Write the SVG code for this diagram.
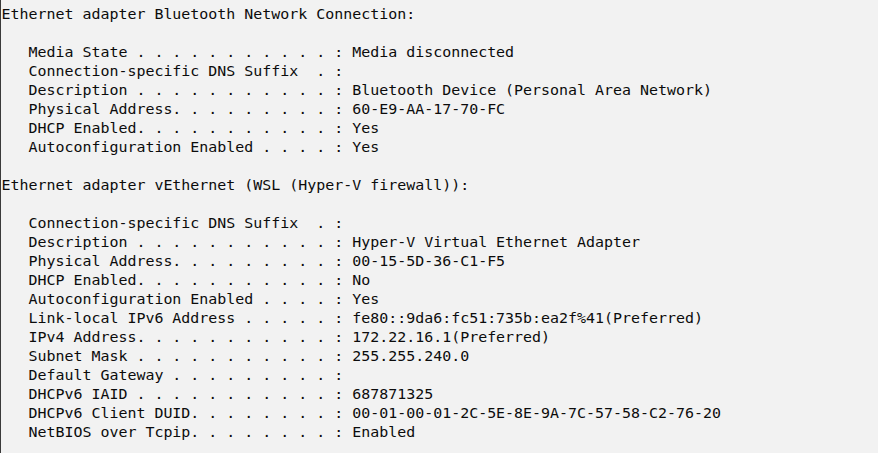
<svg xmlns="http://www.w3.org/2000/svg" width="878" height="453" viewBox="0 0 878 453">
<style>
.t{font-family:"DejaVu Sans Mono","Liberation Mono",monospace;font-size:14.95px;fill:#0c0c0c;white-space:pre}
</style>
<rect x="0" y="0" width="878" height="453" fill="#f2f2f2"/>
<rect x="0" y="0" width="1" height="453" fill="#3a3a3a"/>
<g id="console" xml:space="preserve">
<text class="t" x="1.5" y="18.5">Ethernet adapter Bluetooth Network Connection:</text>
<text class="t" x="1.5" y="56.5">   Media State . . . . . . . . . . . : Media disconnected</text>
<text class="t" x="1.5" y="75.5">   Connection-specific DNS Suffix  . :</text>
<text class="t" x="1.5" y="94.5">   Description . . . . . . . . . . . : Bluetooth Device (Personal Area Network)</text>
<text class="t" x="1.5" y="113.5">   Physical Address. . . . . . . . . : 60-E9-AA-17-70-FC</text>
<text class="t" x="1.5" y="132.5">   DHCP Enabled. . . . . . . . . . . : Yes</text>
<text class="t" x="1.5" y="151.5">   Autoconfiguration Enabled . . . . : Yes</text>
<text class="t" x="1.5" y="189.5">Ethernet adapter vEthernet (WSL (Hyper-V firewall)):</text>
<text class="t" x="1.5" y="227.5">   Connection-specific DNS Suffix  . :</text>
<text class="t" x="1.5" y="246.5">   Description . . . . . . . . . . . : Hyper-V Virtual Ethernet Adapter</text>
<text class="t" x="1.5" y="265.5">   Physical Address. . . . . . . . . : 00-15-5D-36-C1-F5</text>
<text class="t" x="1.5" y="284.5">   DHCP Enabled. . . . . . . . . . . : No</text>
<text class="t" x="1.5" y="303.5">   Autoconfiguration Enabled . . . . : Yes</text>
<text class="t" x="1.5" y="322.5">   Link-local IPv6 Address . . . . . : fe80::9da6:fc51:735b:ea2f%41(Preferred)</text>
<text class="t" x="1.5" y="341.5">   IPv4 Address. . . . . . . . . . . : 172.22.16.1(Preferred)</text>
<text class="t" x="1.5" y="360.5">   Subnet Mask . . . . . . . . . . . : 255.255.240.0</text>
<text class="t" x="1.5" y="379.5">   Default Gateway . . . . . . . . . :</text>
<text class="t" x="1.5" y="398.5">   DHCPv6 IAID . . . . . . . . . . . : 687871325</text>
<text class="t" x="1.5" y="417.5">   DHCPv6 Client DUID. . . . . . . . : 00-01-00-01-2C-5E-8E-9A-7C-57-58-C2-76-20</text>
<text class="t" x="1.5" y="436.5">   NetBIOS over Tcpip. . . . . . . . : Enabled</text>
</g>
</svg>
